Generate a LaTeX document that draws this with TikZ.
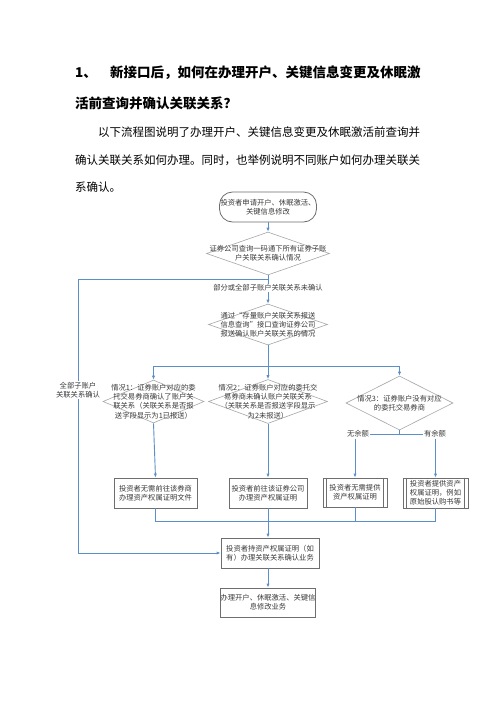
\documentclass[tikz,border=0pt]{standalone}
\usepackage{fontspec}
\setmainfont{Noto Sans CJK SC}
\usetikzlibrary{shapes.geometric,arrows.meta}
\definecolor{lineblue}{HTML}{5B8FC7}
\definecolor{diagray}{HTML}{A6A6A6}
\definecolor{boxgray}{HTML}{6E6E6E}
\definecolor{txtgray}{HTML}{3A3A3A}
\tikzset{
  flow/.style={font=\fontsize{7.3}{9.2}\selectfont, text=txtgray, align=center, inner sep=0pt},
  dia/.style={diamond, draw=diagray, line width=0.6pt, inner sep=0pt},
  box/.style={rectangle, draw=boxgray, line width=0.8pt, inner sep=0pt, flow},
  conn/.style={draw=lineblue, line width=0.9pt},
  arr/.style={conn, -{Latex[length=4pt,width=3.2pt]}},
  lab/.style={flow, fill=white, inner sep=1pt},
  title/.style={anchor=west, inner sep=0pt, font=\fontsize{13.5}{16}\selectfont\bfseries},
  para/.style={anchor=west, inner sep=0pt, font=\fontsize{11.5}{14}\selectfont},
}
\begin{document}
\begin{tikzpicture}[x=1pt,y=-1pt]
\useasboundingbox[fill=white] (0,0) rectangle (496,702);

% header text
\node[title] (tn) at (75,73) {1、};
\node[title] (t1) at (110,73) {新接口后，如何在办理开户、关键信息变更及休眠激};
\node[title] (t2) at (75,103) {活前查询并确认关联关系？};
\node[para] (p1) at (98,132) {以下流程图说明了办理开户、关键信息变更及休眠激活前查询并};
\node[para] (p2) at (75,160) {确认关联关系如何办理。同时，也举例说明不同账户如何办理关联关};
\node[para] (p3) at (75,187) {系确认。};

% start
\node[box, rounded corners=13pt, minimum width=97pt, minimum height=30pt] (start) at (268,207) {投资者申请开户、休眠激活、\\关键信息修改};

% diamonds
\node[dia, minimum width=123pt, minimum height=43pt] (d1) at (268,253.5) {};
\node[flow] (d1t) at (d1) {证券公司查询一码通下所有证券子账\\户关联关系确认情况};
\node[dia, minimum width=119pt, minimum height=41pt] (d2) at (268,324.5) {};
\node[flow] (d2t) at (d2) {通过“存量账户关联关系报送\\信息查询”接口查询证券公司\\报送确认账户关联关系的情况};
\node[dia, minimum width=101pt, minimum height=43pt] (d3) at (153.5,401.5) {};
\node[flow] (d3t) at (d3) {情况1：证券账户对应的委\\托交易券商确认了账户关\\联关系（关联关系是否报\\送字段显示为1已报送）};
\node[dia, minimum width=119pt, minimum height=44pt] (d4) at (268,401.5) {};
\node[flow] (d4t) at (d4) {情况2：证券账户对应的委托交\\易券商未确认账户关联关系\\（关联关系是否报送字段显示\\为2未报送）};
\node[dia, minimum width=107pt, minimum height=54pt] (d5) at (399.5,403) {};
\node[flow] (d5t) at (d5) {情况3：证券账户没有对应\\的委托交易券商};

% boxes
\node[box, minimum width=83pt, minimum height=30pt] (A) at (155.5,493) {投资者无需前往该券商\\办理资产权属证明文件};
\node[box, minimum width=78pt, minimum height=30pt] (B) at (268,493) {投资者前往该证券公司\\办理资产权属证明};
\node[box, minimum width=64pt, minimum height=29pt] (C) at (355,492.5) {投资者无需提供\\资产权属证明};
\node[box, minimum width=65pt, minimum height=30pt] (D) at (435.5,493) {投资者提供资产\\权属证明，例如\\原始股认购书等};
\node[box, minimum width=98pt, minimum height=30pt] (E) at (270,553) {投资者持资产权属证明（如\\有）办理关联关系确认业务};
\node[box, minimum width=94pt, minimum height=29pt] (F) at (268,602.5) {办理开户、休眠激活、关键信\\息修改业务};

% predefined-process side bars
\draw[boxgray, line width=0.8pt] ([xshift=4pt]C.north west) -- ([xshift=4pt]C.south west)
  ([xshift=-4pt]C.north east) -- ([xshift=-4pt]C.south east)
  ([xshift=4pt]D.north west) -- ([xshift=4pt]D.south west)
  ([xshift=-4pt]D.north east) -- ([xshift=-4pt]D.south east);

% junction coordinates
\coordinate (j1) at (268,279);
\coordinate (l1) at (78,279);
\coordinate (j2) at (268,366);
\coordinate (j3) at (399.5,434);
\coordinate (j4) at (268,521);

% connectors
\draw[arr] (start) -- (d1);
\draw[arr] (d1.south) -- (d2.north);
\draw[arr] (j1) -- (l1) |- (E.west);
\draw[arr] (d2.south) -- (d4.north);
\draw[arr] (j2) -| (d3.north);
\draw[arr] (j2) -| (d5.north);
\draw[arr] (d3.south) -- (A.north);
\draw[arr] (d4.south) -- (B.north);

\node[lab] (nb) at (358,434) {无余额};
\node[lab] (yb) at (435,434) {有余额};
\draw[conn] (d5.south) -- (j3);
\draw[conn] (nb.east) -- (yb.west);
\draw[arr] (C.north |- nb.south) -- (C.north);
\draw[arr] (D.north |- yb.south) -- (D.north);

\draw[conn] (A.south) -- (A.south |- j4) -- (D.south |- j4) -- (D.south);
\draw[conn] (B.south) -- (B.south |- j4);
\draw[conn] (C.south) -- (C.south |- j4);
\draw[arr] (j4) -- (j4 |- E.north);
\draw[arr] (E.south -| F.north) -- (F.north);

% labels on connectors
\node[lab] (lpart) at (268,288) {部分或全部子账户关联关系未确认};
\node[lab] (lall) at (78,390) {全部子账户\\关联关系确认};
\end{tikzpicture}
\end{document}
